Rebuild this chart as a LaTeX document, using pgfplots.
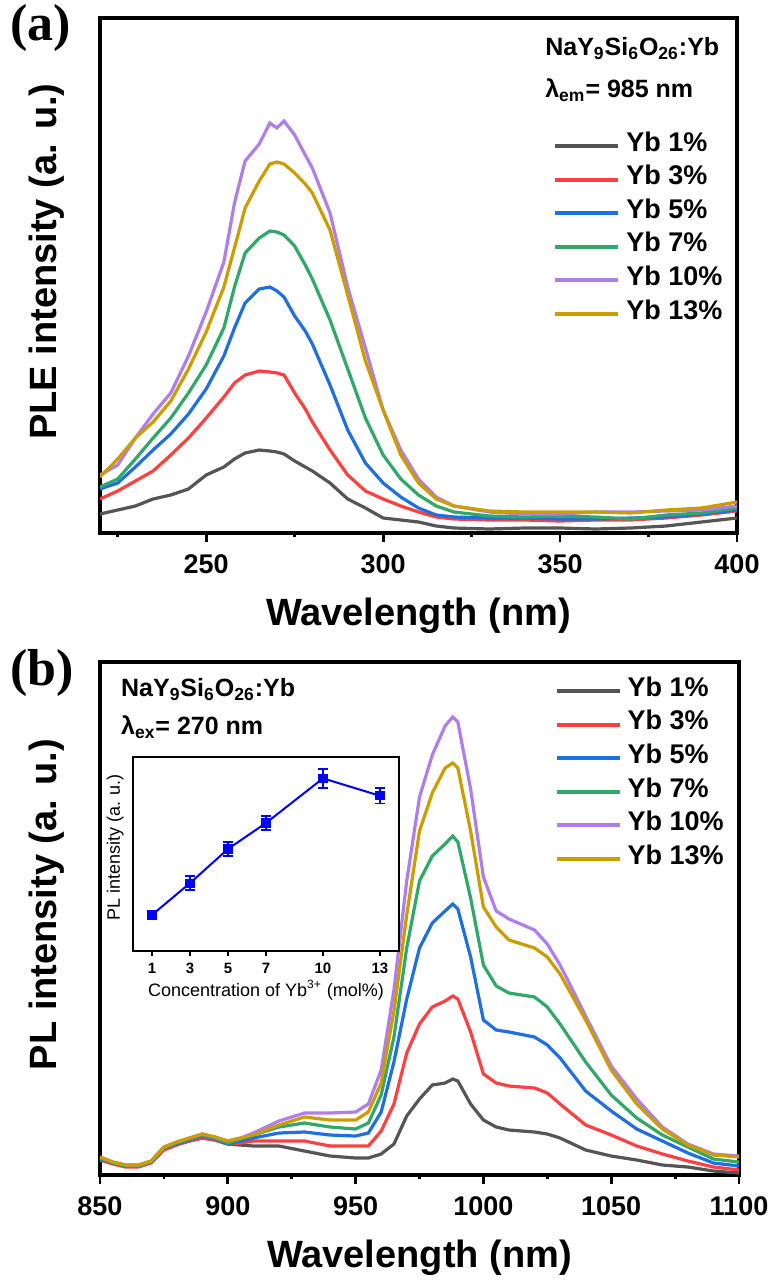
\documentclass[border=0pt]{standalone}
\usepackage{fontspec}
\setmainfont{Liberation Sans}
\newfontfamily\timesfont{Liberation Serif}
\usepackage{pgfplots}
\usepackage{pgfplotstable}
\pgfplotsset{compat=1.18}
\definecolor{cgray}{HTML}{555555}
\definecolor{cred}{HTML}{FF4040}
\definecolor{cblue}{HTML}{1F6FE0}
\definecolor{cgreen}{HTML}{30A868}
\definecolor{cpurple}{HTML}{B07EEA}
\definecolor{cgold}{HTML}{CC9C00}

\pgfplotstableread{
wl g r b gn p y
220 19 34 44 46 58 56
225 23 42 50 54 68 74
230 27 52 66 74 95 95
235 34 62 83 95 119 111
240 38 78 99 115 140 132
245 44 95 119 140 177 164
250 58 115 144 168 221 201
255 66 136 177 205 271 246
258 74 150 205 246 330 285
261 80 158 230 280 372 325
265 83 162 244 295 389 352
268 82 161 246 302 410 369
270 81 160 242 301 405 371
272 79 158 236 298 412 369
275 72 140 217 287 398 360
278 66 124 202 268 378 349
280 62 111 189 254 365 340
285 50 83 148 213 320 303
290 34 58 103 164 246 238
295 25 42 70 115 185 172
300 15 34 50 78 123 123
305 13 27 36 54 83 78
310 11 21 25 38 54 50
315 7 16 18 27 36 34
320 5 14 16 21 27 27
330 4 13 15 17 21 22
340 5 13 15 16 19 21
350 5 12 14 17 19 21
360 4 13 14 16 21 21
370 5 13 15 14 21 20
380 7 15 16 18 22 23
390 11 18 19 20 23 25
400 15 22 23 25 27 31
}\dataA

\pgfplotstableread{
wl g r b gn p y
850 17 15 16 17 18 18
855 12 11 12 12 13 13
860 9 8 9 9 10 10
865 9 8 9 9 10 10
870 13 12 13 13 14 14
875 27 25 27 27 28 28
880 31 30 31 32 33 33
885 34 34 35 36 37 37
890 37 37 39 40 41 41
895 35 35 36 37 38 38
900 31 31 31 32 34 34
905 30 32 34 36 37 37
910 29 34 37 40 42 40
920 29 34 42 48 54 50
930 24 34 43 52 62 58
940 19 29 40 48 62 55
950 17 29 39 46 63 55
955 17 29 42 52 71 63
960 21 44 63 80 105 92
965 31 71 113 138 185 164
970 59 122 176 227 294 260
975 76 151 227 294 378 344
980 90 168 252 319 420 382
985 92 174 264 331 449 407
988 96 179 271 339 458 412
990 94 176 266 333 453 407
995 71 143 218 277 386 344
1000 55 101 155 210 298 268
1005 48 92 145 189 264 248
1010 45 89 143 182 256 235
1020 43 87 138 178 245 227
1025 41 82 130 168 231 218
1030 37 71 117 151 210 201
1040 25 50 84 113 159 155
1050 19 40 64 80 109 105
1060 15 29 46 57 76 71
1070 10 21 34 40 48 46
1080 8 14 22 28 31 30
1090 4 8 12 16 21 20
1100 2 5 9 13 19 18
}\dataB

\pgfplotstableread{
c v e
1 0.186 0.015
3 0.350 0.035
5 0.526 0.035
7 0.660 0.036
10 0.890 0.050
13 0.800 0.040
}\dataI

\pgfplotsset{
  mainax/.style={
    anchor=north west, scale only axis, ytick=\empty, xtick pos=left,
    tick align=outside, major tick length=4.5pt, minor tick length=2pt,
    every tick/.append style={line width=1.4pt, black},
    axis line style={line width=1.8pt},
    tick label style={font=\fontsize{13.5}{14}\selectfont\bfseries},
    xticklabel style={yshift=-3pt},
    /pgf/number format/assume math mode=true,
    /pgf/number format/1000 sep={},
    label style={font=\fontsize{19}{20}\selectfont\bfseries},
    xlabel style={at={(axis description cs:0.5,-0.18)}, anchor=base},
    ylabel style={at={(axis description cs:-0.0675,0.527)}, anchor=base},
    legend style={draw=none, fill=none, inner sep=0pt,
      font=\fontsize{13.5}{14}\selectfont\bfseries, row sep=0pt,
      nodes={inner sep=0pt, text height=11pt, text depth=5.8pt},
      column sep=3pt, anchor=north west},
    legend cell align=left,
    legend image code/.code={\draw[##1, line width=2pt] (0pt,0pt) -- (31.5pt,0pt);},
    every axis plot/.append style={line width=1.6pt},
  },
}

\begin{document}
\begin{tikzpicture}
\path[use as bounding box] (0,0) rectangle (386.5pt,-640pt);
\node[anchor=base west, font=\timesfont\bfseries\fontsize{26}{26}\selectfont] at (1.5pt,-20pt) {(a)};
\node[anchor=base west, font=\timesfont\bfseries\fontsize{26}{26}\selectfont] at (1.5pt,-342.5pt) {(b)};

\begin{axis}[mainax, at={(50pt,-9pt)}, width=318.5pt, height=257.5pt,
  xmin=220, xmax=400, ymin=0, ymax=515,
  xtick={250,300,350,400}, minor xtick={225,275,325,375},
  xlabel={Wavelength (nm)}, ylabel={PLE intensity (a. u.)},
  legend style={at={(axis description cs:0.711,0.785)}}]
\addplot[cgray] table[x=wl,y=g]{\dataA};
\addplot[cred] table[x=wl,y=r]{\dataA};
\addplot[cblue] table[x=wl,y=b]{\dataA};
\addplot[cgreen] table[x=wl,y=gn]{\dataA};
\addplot[cpurple] table[x=wl,y=p]{\dataA};
\addplot[cgold] table[x=wl,y=y]{\dataA};
\legend{Yb 1\%,Yb 3\%,Yb 5\%,Yb 7\%,Yb 10\%,Yb 13\%}
\node[anchor=base west, font=\fontsize{12.5}{13}\selectfont\bfseries] at (axis description cs:0.688,0.928) {NaY\textsubscript{9}Si\textsubscript{6}O\textsubscript{26}:Yb};
\node[anchor=base west, font=\fontsize{12.5}{13}\selectfont\bfseries] at (axis description cs:0.688,0.845) {λ\textsubscript{em}= 985 nm};
\end{axis}

\begin{axis}[mainax, at={(50pt,-331pt)}, width=319.5pt, height=256.5pt,
  xmin=850, xmax=1100, ymin=0, ymax=513,
  xtick={850,900,950,1000,1050,1100}, minor xtick={875,925,975,1025,1075},
  xlabel={Wavelength (nm)}, ylabel={PL intensity (a. u.)},
  legend style={at={(axis description cs:0.711,0.977)}}]
\addplot[cgray] table[x=wl,y=g]{\dataB};
\addplot[cred] table[x=wl,y=r]{\dataB};
\addplot[cblue] table[x=wl,y=b]{\dataB};
\addplot[cgreen] table[x=wl,y=gn]{\dataB};
\addplot[cpurple] table[x=wl,y=p]{\dataB};
\addplot[cgold] table[x=wl,y=y]{\dataB};
\legend{Yb 1\%,Yb 3\%,Yb 5\%,Yb 7\%,Yb 10\%,Yb 13\%}
\node[anchor=base west, font=\fontsize{12.5}{13}\selectfont\bfseries] at (axis description cs:0.022,0.932) {NaY\textsubscript{9}Si\textsubscript{6}O\textsubscript{26}:Yb};
\node[anchor=base west, font=\fontsize{12.5}{13}\selectfont\bfseries] at (axis description cs:0.022,0.858) {λ\textsubscript{ex}= 270 nm};
\end{axis}

\begin{axis}[anchor=north west, at={(66.5pt,-378.5pt)}, width=133pt, height=97pt,
  scale only axis, xmin=0, xmax=14, ymin=0, ymax=1,
  xtick={1,3,5,7,10,13}, ytick=\empty, xtick pos=left, tick align=outside,
  major tick length=2.5pt,
  every tick/.append style={line width=0.8pt, black},
  axis line style={line width=0.9pt},
  axis background/.style={fill=white},
  tick label style={font=\fontsize{7.5}{8}\selectfont\bfseries},
  /pgf/number format/assume math mode=true,
  xlabel={Concentration of Yb\textsuperscript{3+} (mol\%)},
  ylabel={PL intensity (a. u.)},
  xlabel style={font=\fontsize{9}{10}\selectfont, at={(axis description cs:0.5,-0.235)}, anchor=base},
  ylabel style={font=\fontsize{9}{10}\selectfont, at={(axis description cs:-0.049,0.533)}, anchor=base}]
\addplot[blue, line width=1pt, mark=square*, mark size=1.8pt,
  error bars/.cd, y dir=both, y explicit,
  error bar style={line width=0.9pt},
  error mark options={rotate=90, mark size=2.5pt, line width=0.9pt}]
  table[x=c, y=v, y error=e]{\dataI};
\end{axis}
\end{tikzpicture}
\end{document}
